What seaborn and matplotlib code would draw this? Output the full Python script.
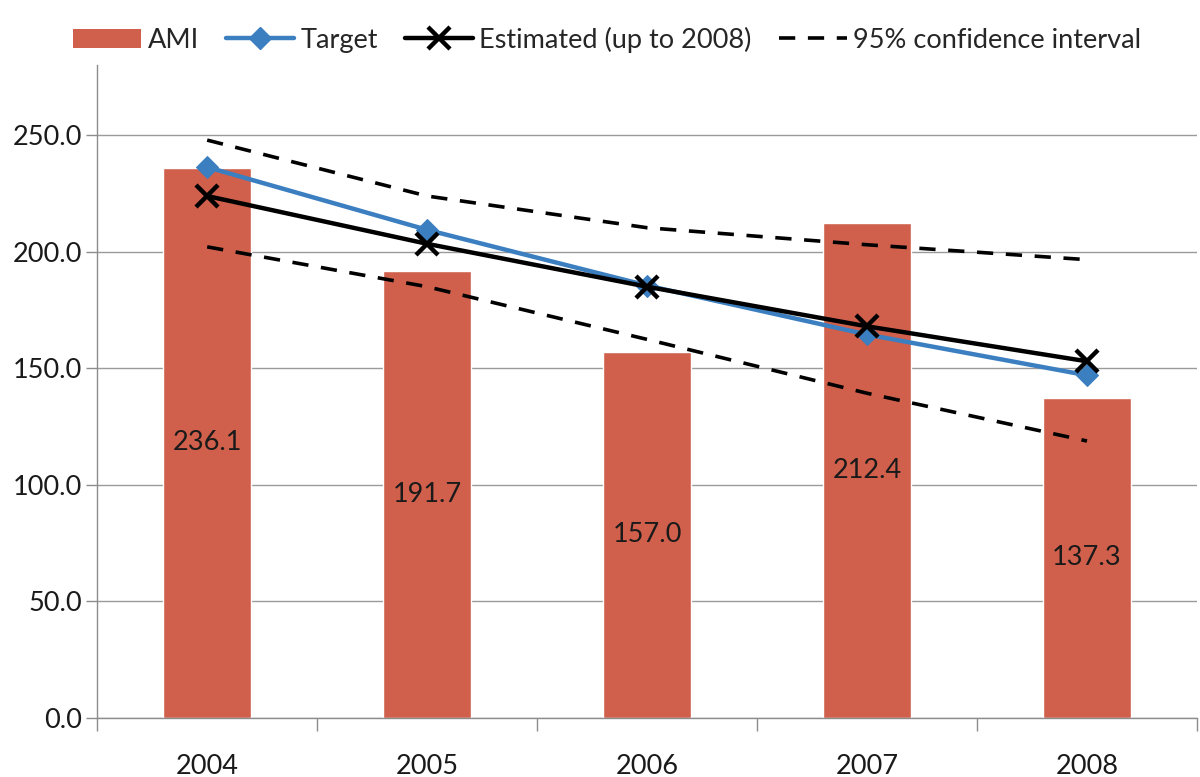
import numpy as np
import pandas as pd
import matplotlib
matplotlib.use("Agg")
import matplotlib.pyplot as plt
import seaborn as sns
from matplotlib.lines import Line2D
from matplotlib.patches import Patch

years = ["2004", "2005", "2006", "2007", "2008"]
ami = [236.1, 191.7, 157.0, 212.4, 137.3]
target = [236.3, 209.4, 185.5, 164.5, 147.0]
estimated = [223.9, 203.4, 185.0, 168.0, 153.0]
ci_upper = [247.9, 223.9, 210.3, 203.0, 196.6]
ci_lower = [202.1, 185.0, 162.4, 139.3, 118.8]

sns.set_theme(style="white")
plt.rcParams['font.family'] = ['Lato', 'DejaVu Sans']

bar_color = "#D0604C"
blue = "#3B7FC1"
FS = 19.5

fig = plt.figure(figsize=(12, 7.77), dpi=100)
ax = fig.add_axes([0.081, 0.076, 0.9165, 0.84])

df = pd.DataFrame({"year": years, "ami": ami})
sns.barplot(data=df, x="year", y="ami", color=bar_color, width=0.4,
            saturation=1, ax=ax, zorder=2)

pos = np.arange(len(years))
dash = (0, (4.5, 3.5))
sns.lineplot(x=pos, y=ci_upper, ax=ax, color="black", lw=2.6,
             linestyle=dash, zorder=3)
sns.lineplot(x=pos, y=ci_lower, ax=ax, color="black", lw=2.6,
             linestyle=dash, zorder=3)
sns.lineplot(x=pos, y=target, ax=ax, color=blue, lw=3.2, marker="D",
             markersize=11, markeredgecolor=blue, markerfacecolor=blue, zorder=4)
sns.lineplot(x=pos, y=estimated, ax=ax, color="black", lw=3.2, marker="x",
             markersize=16, markeredgewidth=3.2, markeredgecolor="black", zorder=5)

for p, v in zip(pos, ami):
    ax.text(p, v / 2, f"{v:.1f}", ha="center", va="center", fontsize=FS,
            color="#1a1a1a", zorder=6)

ax.set_xlim(-0.5, 4.5)
ax.set_ylim(0, 280)
ax.set_yticks(np.arange(0, 251, 50))
ax.set_yticklabels([f"{v:.1f}" for v in np.arange(0, 251, 50)])
ax.set_xlabel("")
ax.set_ylabel("")
ax.yaxis.grid(True, color="#9a9a9a", lw=1.0)
ax.set_axisbelow(True)
for s in ["top", "right"]:
    ax.spines[s].set_visible(False)
ax.spines["left"].set_color("#8c8c8c")
ax.spines["bottom"].set_color("#8c8c8c")
ax.spines["left"].set_linewidth(1.0)
ax.spines["bottom"].set_linewidth(1.0)

ax.tick_params(axis="y", which="major", length=8, width=1, color="#8c8c8c",
               labelsize=FS, labelcolor="#1a1a1a", pad=3, left=True)
ax.tick_params(axis="x", which="major", length=0, labelsize=FS,
               labelcolor="#1a1a1a", pad=26)
ax.set_xticks(np.arange(-0.5, 5.0, 1.0), minor=True)
ax.tick_params(axis="x", which="minor", length=9, width=1, color="#8c8c8c",
               bottom=True, direction="out")

handles = [
    Patch(facecolor=bar_color, edgecolor="none"),
    Line2D([0], [0], color=blue, lw=3.2, marker="D", markersize=11),
    Line2D([0], [0], color="black", lw=3.2, marker="x", markersize=16, markeredgewidth=3.2),
    Line2D([0], [0], color="black", lw=2.6, linestyle=dash),
]
labels = ["AMI", "Target", "Estimated (up to 2008)", "95% confidence interval"]
fig.legend(handles, labels, loc="center", bbox_to_anchor=(0.506, 0.949), ncol=4,
           frameon=False, fontsize=FS, handlelength=2.5, handletextpad=0.25,
           columnspacing=1.0, borderaxespad=0)

fig.savefig("out.png", dpi=100, facecolor="white")
